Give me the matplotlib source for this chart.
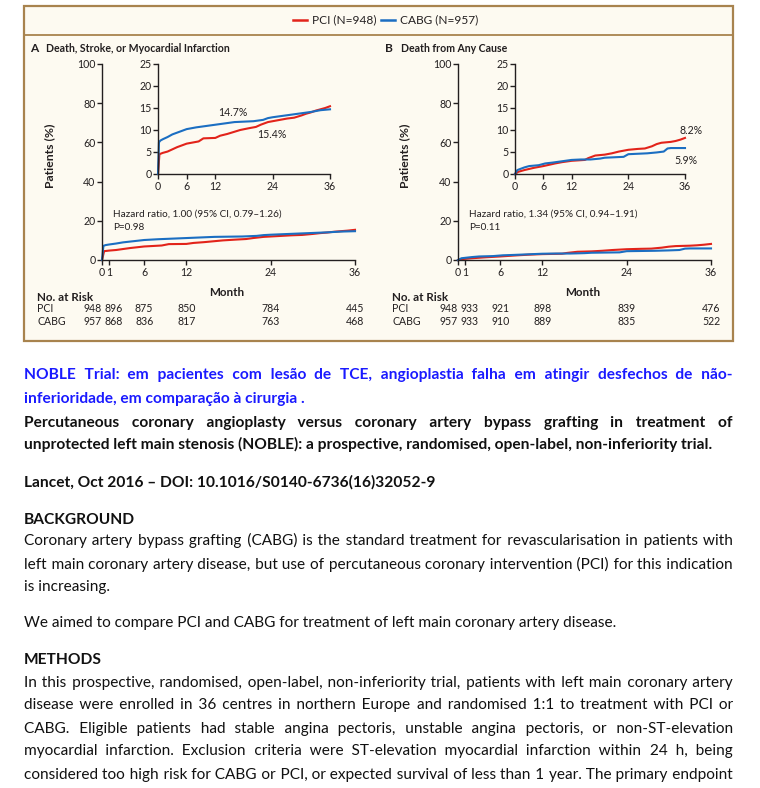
import matplotlib
matplotlib.use('Agg')
import matplotlib.pyplot as plt
from matplotlib.patches import Rectangle
from matplotlib.lines import Line2D
import matplotlib.transforms as mtransforms

# ---------------- data ----------------
months_ticks = [0, 1, 6, 12, 24, 36]
inset_ticks = [0, 6, 12, 24, 36]
main_yticks = [0, 20, 40, 60, 80, 100]
inset_yticks = [0, 5, 10, 15, 20, 25]

# Panel A: death, stroke or MI (cumulative %)
a_pci_t = [0, 0.3, 1, 2, 3, 4, 5, 6, 7, 8.5, 9.5, 12, 13, 14.5, 16, 17.2, 19, 20.5, 21.5, 23, 24,
           25.5, 27, 28.5, 30, 31, 32, 33, 34, 35, 36]
a_pci_v = [0, 4.5, 4.8, 5.1, 5.6, 6.1, 6.5, 6.9, 7.1, 7.4, 8.1, 8.2, 8.7, 9.1, 9.6, 10.0, 10.4, 10.7,
           11.2, 11.8, 12.0, 12.3, 12.6, 12.8, 13.3, 13.7, 14.0, 14.4, 14.7, 15.0, 15.4]
a_cabg_t = [0, 0.2, 0.5, 1, 2, 3, 4, 5, 6, 8, 10, 12, 14, 16, 18, 20, 22, 23, 24, 26, 28, 30, 32,
            34, 36]
a_cabg_v = [0, 7.2, 7.6, 7.9, 8.4, 9.0, 9.4, 9.8, 10.2, 10.6, 10.9, 11.2, 11.5, 11.8, 11.9, 12.0,
            12.3, 12.7, 12.9, 13.2, 13.5, 13.8, 14.1, 14.5, 14.7]

# Panel B: death from any cause (cumulative %)
b_pci_t = [0, 0.7, 2, 4, 6, 8.5, 10, 12, 14.8, 15.5, 17, 19, 20.5, 22, 24, 26, 27.5, 29, 30, 31,
           33, 34, 35, 36]
b_pci_v = [0, 0.5, 0.9, 1.4, 1.8, 2.4, 2.7, 3.0, 3.2, 3.6, 4.2, 4.4, 4.7, 5.1, 5.5, 5.7, 5.8, 6.3,
           6.8, 7.1, 7.3, 7.5, 7.8, 8.2]
b_cabg_t = [0, 0.5, 1, 2, 3, 4, 5, 6.4, 8, 10, 12, 14, 16, 18, 19, 21, 23, 24, 26, 28, 30, 31.5,
            32.3, 33, 36]
b_cabg_v = [0, 0.9, 1.1, 1.5, 1.8, 1.9, 2.0, 2.4, 2.6, 2.9, 3.2, 3.3, 3.3, 3.5, 3.7, 3.8, 3.9, 4.5,
            4.6, 4.7, 4.9, 5.1, 5.8, 5.9, 5.9]

risk_months = [0, 1, 6, 12, 24, 36]
a_risk_pci = [948, 896, 875, 850, 784, 445]
a_risk_cabg = [957, 868, 836, 817, 763, 468]
b_risk_pci = [948, 933, 921, 898, 839, 476]
b_risk_cabg = [957, 933, 910, 889, 835, 522]

legend_labels = ["PCI (N=948)", "CABG (N=957)"]
a_title = "Death, Stroke, or Myocardial Infarction"
b_title = "Death from Any Cause"
a_hr = ["Hazard ratio, 1.00 (95% CI, 0.79\u20131.26)", "P=0.98"]
b_hr = ["Hazard ratio, 1.34 (95% CI, 0.94\u20131.91)", "P=0.11"]
a_pct = ["14.7%", "15.4%"]
b_pct = ["8.2%", "5.9%"]

# body text: (text, style, justify, y centre in px)
body = [
    ("NOBLE Trial: em pacientes com lesão de TCE, angioplastia falha em atingir desfechos de não-", "blue", True, 375),
    ("inferioridade, em comparação à cirurgia .", "blue", False, 398),
    ("Percutaneous coronary angioplasty versus coronary artery bypass grafting in treatment of", "bold", True, 423),
    ("unprotected left main stenosis (NOBLE): a prospective, randomised, open-label, non-inferiority trial.", "bold", False, 445),
    ("Lancet, Oct 2016 \u2013 DOI: 10.1016/S0140-6736(16)32052-9", "bold", False, 482),
    ("BACKGROUND", "bold", False, 519),
    ("Coronary artery bypass grafting (CABG) is the standard treatment for revascularisation in patients with", "reg", True, 541),
    ("left main coronary artery disease, but use of percutaneous coronary intervention (PCI) for this indication", "reg", True, 564),
    ("is increasing.", "reg", False, 586),
    ("We aimed to compare PCI and CABG for treatment of left main coronary artery disease.", "reg", False, 622),
    ("METHODS", "bold", False, 659),
    ("In this prospective, randomised, open-label, non-inferiority trial, patients with left main coronary artery", "reg", True, 682),
    ("disease were enrolled in 36 centres in northern Europe and randomised 1:1 to treatment with PCI or", "reg", True, 705),
    ("CABG. Eligible patients had stable angina pectoris, unstable angina pectoris, or non-ST-elevation", "reg", True, 728),
    ("myocardial infarction. Exclusion criteria were ST-elevation myocardial infarction within 24 h, being", "reg", True, 751),
    ("considered too high risk for CABG or PCI, or expected survival of less than 1 year. The primary endpoint", "reg", True, 774),
]

# ---------------- figure ----------------
W, H = 760, 788
plt.rcParams['font.family'] = ['Lato', 'DejaVu Sans']
fig = plt.figure(figsize=(7.6, 7.88), dpi=100)
fig.patch.set_facecolor('white')

RED = '#e2231a'
BLUE = '#1b6ec2'
INK = '#231f20'
BORDER = '#a8834e'


def fx(x):
    return x / W


def fy(y):
    return 1 - y / H


# box
fig.add_artist(Rectangle((fx(24), fy(341)), fx(733) - fx(24), fy(6) - fy(341),
                         transform=fig.transFigure, facecolor='#fdfaf1',
                         edgecolor=BORDER, lw=1.6, zorder=0))
fig.add_artist(Line2D([fx(24), fx(733)], [fy(35), fy(35)], color=BORDER, lw=1.3,
                      transform=fig.transFigure, zorder=1))

# legend
fig.add_artist(Line2D([fx(293), fx(307)], [fy(20), fy(20)], color=RED, lw=1.8,
                      transform=fig.transFigure))
fig.text(fx(312), fy(20), legend_labels[0], fontsize=8.6, color=INK, va='center')
fig.add_artist(Line2D([fx(381), fx(395)], [fy(20), fy(20)], color=BLUE, lw=1.8,
                      transform=fig.transFigure))
fig.text(fx(400), fy(20), legend_labels[1], fontsize=8.6, color=INK, va='center')


def make_axes(l, t, r, b):
    ax = fig.add_axes([fx(l), fy(b), fx(r) - fx(l), fy(t) - fy(b)])
    ax.set_facecolor('none')
    for s in ['top', 'right']:
        ax.spines[s].set_visible(False)
    for s in ['left', 'bottom']:
        ax.spines[s].set_linewidth(1.0)
        ax.spines[s].set_color(INK)
    ax.tick_params(length=3.5, width=1.0, pad=1.2, labelsize=7.6, colors=INK)
    ax.set_xlim(0, 36)
    return ax


def panel(x0, letter, title, main_box, inset_box, pci_t, pci_v, cabg_t, cabg_v,
          hr, pct, pct_pos, risk_pci, risk_cabg):
    axm = make_axes(*main_box)
    axm.set_ylim(0, 100)
    axm.set_yticks(main_yticks)
    axm.set_xticks(months_ticks)
    axm.plot(pci_t, pci_v, color=RED, lw=1.5, clip_on=False)
    axm.plot(cabg_t, cabg_v, color=BLUE, lw=1.5, clip_on=False)

    axi = make_axes(*inset_box)
    axi.set_ylim(0, 25)
    axi.set_yticks(inset_yticks)
    axi.set_xticks(inset_ticks)
    axi.plot(pci_t, pci_v, color=RED, lw=1.5, clip_on=False)
    axi.plot(cabg_t, cabg_v, color=BLUE, lw=1.5, clip_on=False)

    # titles
    fig.text(fx(x0 + 6), fy(49), letter, fontsize=8.6, fontweight='bold', color=INK, va='center')
    fig.text(fx(x0 + 22), fy(49), title, fontsize=7.6, fontweight='bold', color=INK, va='center')
    fig.text(fx(x0 + 26), fy(156), "Patients (%)", fontsize=8.8, fontweight='bold', color=INK,
             rotation=90, ha='center', va='center')
    # hazard
    fig.text(fx(main_box[0] + 11), fy(214), hr[0], fontsize=7.2, color=INK, va='center')
    fig.text(fx(main_box[0] + 11), fy(228), hr[1], fontsize=7.2, color=INK, va='center')
    # percentages
    for s, (px, py) in zip(pct, pct_pos):
        fig.text(fx(px), fy(py), s, fontsize=7.6, color=INK, ha='center', va='center')
    # month label
    xm = (main_box[0] + main_box[2]) / 2 - 2
    fig.text(fx(xm), fy(292), "Month", fontsize=8.4, fontweight='bold', color=INK,
             ha='center', va='center')
    # risk table
    fig.text(fx(x0 + 13), fy(297), "No. at Risk", fontsize=8.4, fontweight='bold', color=INK,
             va='center')
    fig.text(fx(x0 + 13), fy(309), "PCI", fontsize=7.6, color=INK, va='center')
    fig.text(fx(x0 + 13), fy(322), "CABG", fontsize=7.6, color=INK, va='center')
    tr = mtransforms.blended_transform_factory(axm.transData, fig.transFigure)
    shift = {0: -1.3, 1: 0.6}
    for m, vp, vc in zip(risk_months, risk_pci, risk_cabg):
        xm_ = m + shift.get(m, 0)
        axm.text(xm_, fy(309), str(vp), transform=tr, fontsize=7.6, color=INK,
                 ha='center', va='center', clip_on=False)
        axm.text(xm_, fy(322), str(vc), transform=tr, fontsize=7.6, color=INK,
                 ha='center', va='center', clip_on=False)


panel(24, "A", a_title, (102, 64, 355, 260), (158, 64, 330, 174),
      a_pci_t, a_pci_v, a_cabg_t, a_cabg_v, a_hr, a_pct, [(233, 112), (272, 135)],
      a_risk_pci, a_risk_cabg)
panel(379, "B", b_title, (458, 64, 711, 260), (515, 64, 685, 174),
      b_pci_t, b_pci_v, b_cabg_t, b_cabg_v, b_hr, b_pct, [(691, 131), (686, 160)],
      b_risk_pci, b_risk_cabg)

# ---------------- body text ----------------
renderer = fig.canvas.get_renderer()
HS = '\u200a'  # hair space used to stretch inter-word gaps


def text_width(s, size, weight):
    t = fig.text(0, 0, s, fontsize=size, fontweight=weight)
    w = t.get_window_extent(renderer=renderer).width
    t.remove()
    return w


REF = 11.0
reg_lines = [b[0] for b in body if b[1] == 'reg' and b[2]]
max_reg = max(text_width(s, REF, 'normal') for s in reg_lines)
size_reg = REF * 703 / max_reg
size_bold = REF * 687 / text_width(body[3][0], REF, 'bold')

LEFT, RIGHT = 24, 733


def justified(s, size, weight, target):
    words = s.split(' ')
    n = len(words) - 1
    hs = (text_width('a' + HS * 20 + 'a', size, weight) - text_width('aa', size, weight)) / 20
    extra = target - text_width(s, size, weight)
    k_total = max(0, int(round(extra / hs))) if hs > 0 else 0
    counts = [int(round((i + 1) * k_total / n)) - int(round(i * k_total / n)) for i in range(n)]
    out = words[0]
    for c, w in zip(counts, words[1:]):
        out += ' ' + HS * c + w
    return out


for s, style, just, yc in body:
    weight = 'normal' if style == 'reg' else 'bold'
    size = size_reg if style == 'reg' else size_bold
    color = '#1a1aff' if style == 'blue' else '#111111'
    yb = yc + 4.5
    line = justified(s, size, weight, RIGHT - LEFT) if just else s
    fig.text(fx(LEFT), fy(yb), line, fontsize=size, fontweight=weight, color=color,
             ha='left', va='baseline')

fig.savefig('out.png', dpi=100, facecolor='white')
